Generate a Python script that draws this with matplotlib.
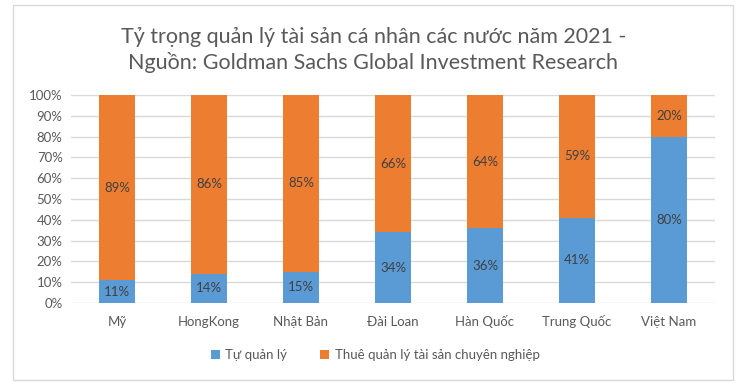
import matplotlib
matplotlib.use("Agg")
import matplotlib.pyplot as plt
from matplotlib.patches import Rectangle
import numpy as np

plt.rcParams['font.family'] = ['Lato', 'Noto Sans', 'DejaVu Sans']

categories = ["Mỹ", "HongKong", "Nhật Bản", "Đài Loan", "Hàn Quốc", "Trung Quốc", "Việt Nam"]
tu_quan_ly = [11, 14, 15, 34, 36, 41, 80]
thue_quan_ly = [89, 86, 85, 66, 64, 59, 20]
series_names = ["Tự quản lý", "Thuê quản lý tài sản chuyên nghiệp"]
title = "Tỷ trọng quản lý tài sản cá nhân các nước năm 2021 -\nNguồn: Goldman Sachs Global Investment Research"

blue = "#5B9BD5"
orange = "#ED7D31"
txt = "#595959"

W, H = 747, 387
fig = plt.figure(figsize=(W/100, H/100), dpi=100)
fig.patches.append(Rectangle((13/W, 1-380/H), 720/W, 375/H, transform=fig.transFigure,
                             fill=False, edgecolor="#D9D9D9", linewidth=1))

ax = fig.add_axes([71/W, 1-303/H, (715-71)/W, (303-95)/H])
x = np.arange(len(categories))
b1 = ax.bar(x, tu_quan_ly, width=0.4, color=blue, zorder=3)
b2 = ax.bar(x, thue_quan_ly, width=0.4, bottom=tu_quan_ly, color=orange, zorder=3)

for i in range(len(categories)):
    ax.text(x[i], tu_quan_ly[i]/2, f"{tu_quan_ly[i]}%", ha="center", va="center",
            fontsize=9.5, color="#404040", zorder=4)
    ax.text(x[i], tu_quan_ly[i] + thue_quan_ly[i]/2, f"{thue_quan_ly[i]}%", ha="center",
            va="center", fontsize=9.5, color="#404040", zorder=4)

ax.set_xlim(-0.5, len(categories)-0.5)
ax.set_ylim(0, 100)
ax.set_yticks(range(0, 101, 10))
ax.set_yticklabels([f"{v}%" for v in range(0, 101, 10)])
ax.set_xticks(x)
ax.set_xticklabels(categories)
ax.tick_params(axis="both", length=0, colors=txt, labelsize=9.5)
ax.tick_params(axis="x", pad=9)
ax.tick_params(axis="y", pad=6)
ax.grid(axis="y", color="#D9D9D9", linewidth=1, zorder=0)
for s in ax.spines.values():
    s.set_visible(False)

fig.text(0.5, 1-50/H, title, ha="center", va="center", fontsize=15.5, color=txt, linespacing=1.25)

leg = fig.legend([b1, b2], series_names, loc="center", bbox_to_anchor=(375/W, 1-355/H),
                 ncol=2, frameon=False, fontsize=9.5, handlelength=0.7, handleheight=0.7,
                 columnspacing=2.5, handletextpad=0.4)
for t in leg.get_texts():
    t.set_color(txt)

fig.savefig("out.png", dpi=100)
